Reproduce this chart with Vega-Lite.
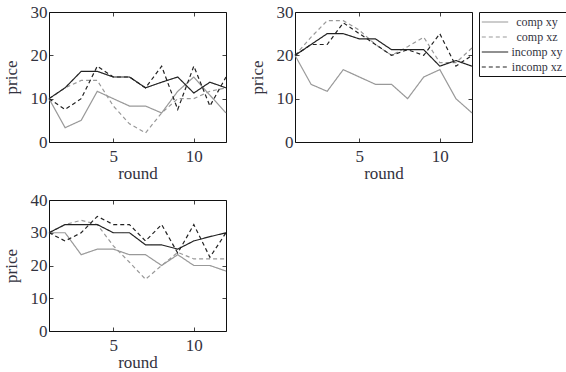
{
  "$schema": "https://vega.github.io/schema/vega-lite/v6.json",
  "background": "white",
  "padding": {"top": 2, "left": 1, "right": 0, "bottom": 0},
  "data": {"values": [
    {"panel":1,"series":"comp xy","round":1,"price":10},{"panel":1,"series":"comp xy","round":2,"price":3.3},{"panel":1,"series":"comp xy","round":3,"price":5},{"panel":1,"series":"comp xy","round":4,"price":11.7},{"panel":1,"series":"comp xy","round":5,"price":10},{"panel":1,"series":"comp xy","round":6,"price":8.3},{"panel":1,"series":"comp xy","round":7,"price":8.3},{"panel":1,"series":"comp xy","round":8,"price":6.7},{"panel":1,"series":"comp xy","round":9,"price":11.7},{"panel":1,"series":"comp xy","round":10,"price":15},{"panel":1,"series":"comp xy","round":11,"price":10.8},{"panel":1,"series":"comp xy","round":12,"price":6.7},
    {"panel":1,"series":"comp xz","round":1,"price":10},{"panel":1,"series":"comp xz","round":2,"price":12.5},{"panel":1,"series":"comp xz","round":3,"price":14.2},{"panel":1,"series":"comp xz","round":4,"price":14.2},{"panel":1,"series":"comp xz","round":5,"price":8.3},{"panel":1,"series":"comp xz","round":6,"price":4.2},{"panel":1,"series":"comp xz","round":7,"price":2.1},{"panel":1,"series":"comp xz","round":8,"price":6.7},{"panel":1,"series":"comp xz","round":9,"price":10},{"panel":1,"series":"comp xz","round":10,"price":10},{"panel":1,"series":"comp xz","round":11,"price":11.7},{"panel":1,"series":"comp xz","round":12,"price":12.5},
    {"panel":1,"series":"incomp xy","round":1,"price":10},{"panel":1,"series":"incomp xy","round":2,"price":12.5},{"panel":1,"series":"incomp xy","round":3,"price":16.3},{"panel":1,"series":"incomp xy","round":4,"price":16.3},{"panel":1,"series":"incomp xy","round":5,"price":15},{"panel":1,"series":"incomp xy","round":6,"price":15},{"panel":1,"series":"incomp xy","round":7,"price":12.5},{"panel":1,"series":"incomp xy","round":8,"price":13.8},{"panel":1,"series":"incomp xy","round":9,"price":15},{"panel":1,"series":"incomp xy","round":10,"price":11.3},{"panel":1,"series":"incomp xy","round":11,"price":13.8},{"panel":1,"series":"incomp xy","round":12,"price":12.5},
    {"panel":1,"series":"incomp xz","round":1,"price":10},{"panel":1,"series":"incomp xz","round":2,"price":7.5},{"panel":1,"series":"incomp xz","round":3,"price":10},{"panel":1,"series":"incomp xz","round":4,"price":17.5},{"panel":1,"series":"incomp xz","round":5,"price":15},{"panel":1,"series":"incomp xz","round":6,"price":15},{"panel":1,"series":"incomp xz","round":7,"price":12.5},{"panel":1,"series":"incomp xz","round":8,"price":17.5},{"panel":1,"series":"incomp xz","round":9,"price":7.5},{"panel":1,"series":"incomp xz","round":10,"price":17.5},{"panel":1,"series":"incomp xz","round":11,"price":8.3},{"panel":1,"series":"incomp xz","round":12,"price":15},
    {"panel":2,"series":"comp xy","round":1,"price":20},{"panel":2,"series":"comp xy","round":2,"price":13.3},{"panel":2,"series":"comp xy","round":3,"price":11.7},{"panel":2,"series":"comp xy","round":4,"price":16.7},{"panel":2,"series":"comp xy","round":5,"price":15},{"panel":2,"series":"comp xy","round":6,"price":13.3},{"panel":2,"series":"comp xy","round":7,"price":13.3},{"panel":2,"series":"comp xy","round":8,"price":10},{"panel":2,"series":"comp xy","round":9,"price":15},{"panel":2,"series":"comp xy","round":10,"price":16.7},{"panel":2,"series":"comp xy","round":11,"price":10},{"panel":2,"series":"comp xy","round":12,"price":6.7},
    {"panel":2,"series":"comp xz","round":1,"price":20},{"panel":2,"series":"comp xz","round":2,"price":24.2},{"panel":2,"series":"comp xz","round":3,"price":28},{"panel":2,"series":"comp xz","round":4,"price":28},{"panel":2,"series":"comp xz","round":5,"price":25.8},{"panel":2,"series":"comp xz","round":6,"price":22.5},{"panel":2,"series":"comp xz","round":7,"price":20},{"panel":2,"series":"comp xz","round":8,"price":22},{"panel":2,"series":"comp xz","round":9,"price":24.2},{"panel":2,"series":"comp xz","round":10,"price":18.3},{"panel":2,"series":"comp xz","round":11,"price":18.3},{"panel":2,"series":"comp xz","round":12,"price":21.7},
    {"panel":2,"series":"incomp xy","round":1,"price":20},{"panel":2,"series":"incomp xy","round":2,"price":22.5},{"panel":2,"series":"incomp xy","round":3,"price":25},{"panel":2,"series":"incomp xy","round":4,"price":25},{"panel":2,"series":"incomp xy","round":5,"price":23.8},{"panel":2,"series":"incomp xy","round":6,"price":23.8},{"panel":2,"series":"incomp xy","round":7,"price":21.3},{"panel":2,"series":"incomp xy","round":8,"price":21.3},{"panel":2,"series":"incomp xy","round":9,"price":21.3},{"panel":2,"series":"incomp xy","round":10,"price":17.5},{"panel":2,"series":"incomp xy","round":11,"price":18.8},{"panel":2,"series":"incomp xy","round":12,"price":17.5},
    {"panel":2,"series":"incomp xz","round":1,"price":20},{"panel":2,"series":"incomp xz","round":2,"price":22.5},{"panel":2,"series":"incomp xz","round":3,"price":22.5},{"panel":2,"series":"incomp xz","round":4,"price":27.5},{"panel":2,"series":"incomp xz","round":5,"price":25},{"panel":2,"series":"incomp xz","round":6,"price":22.5},{"panel":2,"series":"incomp xz","round":7,"price":20},{"panel":2,"series":"incomp xz","round":8,"price":21.3},{"panel":2,"series":"incomp xz","round":9,"price":20},{"panel":2,"series":"incomp xz","round":10,"price":25},{"panel":2,"series":"incomp xz","round":11,"price":17.5},{"panel":2,"series":"incomp xz","round":12,"price":20},
    {"panel":3,"series":"comp xy","round":1,"price":30},{"panel":3,"series":"comp xy","round":2,"price":30},{"panel":3,"series":"comp xy","round":3,"price":23.3},{"panel":3,"series":"comp xy","round":4,"price":25},{"panel":3,"series":"comp xy","round":5,"price":25},{"panel":3,"series":"comp xy","round":6,"price":23.3},{"panel":3,"series":"comp xy","round":7,"price":23.3},{"panel":3,"series":"comp xy","round":8,"price":20},{"panel":3,"series":"comp xy","round":9,"price":23.3},{"panel":3,"series":"comp xy","round":10,"price":20},{"panel":3,"series":"comp xy","round":11,"price":20},{"panel":3,"series":"comp xy","round":12,"price":18.3},
    {"panel":3,"series":"comp xz","round":1,"price":30},{"panel":3,"series":"comp xz","round":2,"price":32.5},{"panel":3,"series":"comp xz","round":3,"price":33.8},{"panel":3,"series":"comp xz","round":4,"price":32.5},{"panel":3,"series":"comp xz","round":5,"price":26},{"panel":3,"series":"comp xz","round":6,"price":21},{"panel":3,"series":"comp xz","round":7,"price":15.8},{"panel":3,"series":"comp xz","round":8,"price":20},{"panel":3,"series":"comp xz","round":9,"price":24},{"panel":3,"series":"comp xz","round":10,"price":22},{"panel":3,"series":"comp xz","round":11,"price":22},{"panel":3,"series":"comp xz","round":12,"price":22},
    {"panel":3,"series":"incomp xy","round":1,"price":30},{"panel":3,"series":"incomp xy","round":2,"price":32.5},{"panel":3,"series":"incomp xy","round":3,"price":32.5},{"panel":3,"series":"incomp xy","round":4,"price":32.5},{"panel":3,"series":"incomp xy","round":5,"price":30},{"panel":3,"series":"incomp xy","round":6,"price":30},{"panel":3,"series":"incomp xy","round":7,"price":26.3},{"panel":3,"series":"incomp xy","round":8,"price":26.3},{"panel":3,"series":"incomp xy","round":9,"price":25},{"panel":3,"series":"incomp xy","round":10,"price":27.5},{"panel":3,"series":"incomp xy","round":11,"price":28.8},{"panel":3,"series":"incomp xy","round":12,"price":30},
    {"panel":3,"series":"incomp xz","round":1,"price":30},{"panel":3,"series":"incomp xz","round":2,"price":27.5},{"panel":3,"series":"incomp xz","round":3,"price":30},{"panel":3,"series":"incomp xz","round":4,"price":35},{"panel":3,"series":"incomp xz","round":5,"price":32.5},{"panel":3,"series":"incomp xz","round":6,"price":32.5},{"panel":3,"series":"incomp xz","round":7,"price":27.5},{"panel":3,"series":"incomp xz","round":8,"price":32.5},{"panel":3,"series":"incomp xz","round":9,"price":23.8},{"panel":3,"series":"incomp xz","round":10,"price":32.5},{"panel":3,"series":"incomp xz","round":11,"price":22.5},{"panel":3,"series":"incomp xz","round":12,"price":30}
  ]},
  "vconcat": [
    {"hconcat": [
      {
        "width": 177, "height": 130,
        "transform": [{"filter": "datum.panel == 1"}],
        "layer": [
          {"mark": {"type": "line", "strokeWidth": 1.2},
           "encoding": {
             "x": {"field": "round", "type": "quantitative", "scale": {"domain": [1, 12], "nice": false, "zero": false}, "axis": {"values": [5, 10], "title": "round"}},
             "y": {"field": "price", "type": "quantitative", "scale": {"domain": [0, 30], "nice": false}, "axis": {"values": [0, 10, 20, 30], "title": "price"}},
             "color": {"field": "series", "type": "nominal", "scale": {"domain": ["comp xy", "comp xz", "incomp xy", "incomp xz"], "range": ["#999999", "#999999", "#222222", "#222222"]}},
             "strokeDash": {"field": "series", "type": "nominal", "scale": {"domain": ["comp xy", "comp xz", "incomp xy", "incomp xz"], "range": [[1, 0], [4, 3], [1, 0], [4, 3]]}}
           }},
          {"mark": {"type": "line", "opacity": 0},
           "encoding": {
             "x": {"field": "round", "type": "quantitative", "axis": {"orient": "top", "values": [5, 10], "labels": false, "title": null}},
             "y": {"field": "price", "type": "quantitative", "axis": {"orient": "right", "values": [0, 10, 20, 30], "labels": false, "title": null}},
             "detail": {"field": "series"}
           }}
        ],
        "resolve": {"axis": {"x": "independent", "y": "independent"}}
      },
      {
        "width": 177, "height": 130,
        "transform": [{"filter": "datum.panel == 2"}],
        "layer": [
          {"mark": {"type": "line", "strokeWidth": 1.2},
           "encoding": {
             "x": {"field": "round", "type": "quantitative", "scale": {"domain": [1, 12], "nice": false, "zero": false}, "axis": {"values": [5, 10], "title": "round"}},
             "y": {"field": "price", "type": "quantitative", "scale": {"domain": [0, 30], "nice": false}, "axis": {"values": [0, 10, 20, 30], "title": "price"}},
             "color": {"field": "series", "type": "nominal", "scale": {"domain": ["comp xy", "comp xz", "incomp xy", "incomp xz"], "range": ["#999999", "#999999", "#222222", "#222222"]}},
             "strokeDash": {"field": "series", "type": "nominal", "scale": {"domain": ["comp xy", "comp xz", "incomp xy", "incomp xz"], "range": [[1, 0], [4, 3], [1, 0], [4, 3]]}}
           }},
          {"mark": {"type": "line", "opacity": 0},
           "encoding": {
             "x": {"field": "round", "type": "quantitative", "axis": {"orient": "top", "values": [5, 10], "labels": false, "title": null}},
             "y": {"field": "price", "type": "quantitative", "axis": {"orient": "right", "values": [0, 10, 20, 30], "labels": false, "title": null}},
             "detail": {"field": "series"}
           }}
        ],
        "resolve": {"axis": {"x": "independent", "y": "independent"}}
      }
    ]},
    {
      "width": 177, "height": 131,
      "transform": [{"filter": "datum.panel == 3"}],
      "layer": [
        {"mark": {"type": "line", "strokeWidth": 1.2},
         "encoding": {
           "x": {"field": "round", "type": "quantitative", "scale": {"domain": [1, 12], "nice": false, "zero": false}, "axis": {"values": [5, 10], "title": "round"}},
           "y": {"field": "price", "type": "quantitative", "scale": {"domain": [0, 40], "nice": false}, "axis": {"values": [0, 10, 20, 30, 40], "title": "price"}},
           "color": {"field": "series", "type": "nominal", "scale": {"domain": ["comp xy", "comp xz", "incomp xy", "incomp xz"], "range": ["#999999", "#999999", "#222222", "#222222"]}},
           "strokeDash": {"field": "series", "type": "nominal", "scale": {"domain": ["comp xy", "comp xz", "incomp xy", "incomp xz"], "range": [[1, 0], [4, 3], [1, 0], [4, 3]]}}
         }},
        {"mark": {"type": "line", "opacity": 0},
         "encoding": {
           "x": {"field": "round", "type": "quantitative", "axis": {"orient": "top", "values": [5, 10], "labels": false, "title": null}},
           "y": {"field": "price", "type": "quantitative", "axis": {"orient": "right", "values": [0, 10, 20, 30, 40], "labels": false, "title": null}},
           "detail": {"field": "series"}
         }}
      ],
      "resolve": {"axis": {"x": "independent", "y": "independent"}}
    }
  ],
  "spacing": 8,
  "resolve": {"scale": {"color": "shared", "strokeDash": "shared"}},
  "config": {
    "concat": {"spacing": 18},
    "view": {"stroke": "#111111", "strokeWidth": 1},
    "axis": {
      "grid": false, "domain": false,
      "tickSize": -4, "tickColor": "#111111", "tickWidth": 0.8,
      "labelFont": "Liberation Serif", "labelFontSize": 17, "labelColor": "#333340", "labelPadding": 6,
      "titleFont": "Liberation Serif", "titleFontSize": 17, "titleFontWeight": "normal", "titleColor": "#333340", "titlePadding": 6
    },
    "axisX": {"labelPadding": 10, "titlePadding": 1},
    "axisY": {"titlePadding": 10},
    "legend": {
      "title": null, "orient": "right", "offset": 4,
      "symbolType": "M-1.2,0H3.2", "symbolSize": 144, "symbolStrokeWidth": 1.2,
      "labelOffset": 41, "labelAlign": "center",
      "labelFont": "Liberation Serif", "labelFontSize": 12, "labelColor": "#333340",
      "strokeColor": "#111111", "padding": 3, "rowPadding": 2
    }
  }
}
